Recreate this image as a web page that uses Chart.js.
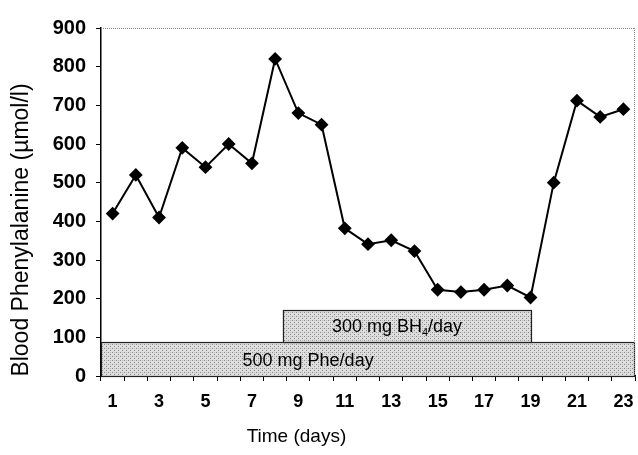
<!DOCTYPE html>
<html>
<head>
<meta charset="utf-8">
<script src="https://cdn.jsdelivr.net/npm/chart.js@4/dist/chart.umd.min.js"></script>
<style>
  html, body { margin: 0; padding: 0; background: #fff; }
  #wrap { width: 638px; height: 455px; position: relative; }
</style>
</head>
<body>
<div id="wrap"><canvas id="c" width="638" height="455"></canvas></div>
<script>
// ---- data ----
const days = ['1','2','3','4','5','6','7','8','9','10','11','12','13','14','15','16','17','18','19','20','21','22','23'];
const phe = [420, 520, 410, 590, 540, 600, 550, 820, 680, 650, 382, 341, 351, 323, 223, 217, 223, 234, 203, 500, 712, 670, 690];
const yTicks = [0, 100, 200, 300, 400, 500, 600, 700, 800, 900];
const bandNames = ['500 mg Phe/day', '300 mg BH4/day'];
const bandStart = [0.5, 8.33];
const bandEnd = [23.5, 19.05];
const bandLow = [0, 87];
const bandHigh = [87, 170];

const FONT = '"Liberation Sans", Arial, sans-serif';

function makePattern(ctx) {
  const p = document.createElement('canvas');
  p.width = 4; p.height = 4;
  const g = p.getContext('2d');
  g.fillStyle = '#dedede';
  g.fillRect(0, 0, 4, 4);
  g.fillStyle = '#8a8a8a';
  g.fillRect(0, 0, 1, 1);
  g.fillRect(2, 2, 1, 1);
  g.fillStyle = '#bcbcbc';
  g.fillRect(2, 0, 1, 1);
  return ctx.createPattern(p, 'repeat');
}

const bandPlugin = {
  id: 'bands',
  beforeDatasetsDraw(chart, args, opts) {
    const ctx = chart.ctx;
    const xs = chart.scales.xb, ys = chart.scales.y;
    const pat = makePattern(ctx);
    ctx.save();
    for (let i = 0; i < bandNames.length; i++) {
      const x0 = xs.getPixelForValue(bandStart[i]);
      const x1 = xs.getPixelForValue(bandEnd[i]);
      const y0 = ys.getPixelForValue(bandLow[i]);
      const y1 = ys.getPixelForValue(bandHigh[i]);
      ctx.fillStyle = pat;
      ctx.fillRect(x0, y1, x1 - x0, y0 - y1);
      ctx.strokeStyle = '#222';
      ctx.lineWidth = 1.2;
      ctx.strokeRect(Math.round(x0) + 0.5, Math.round(y1) + 0.5, Math.round(x1 - x0) - 1, Math.round(y0 - y1));
    }
    const lab = opts.labels;
    ctx.fillStyle = '#000';
    ctx.textBaseline = 'middle';
    for (let i = 0; i < lab.length; i++) {
      const cx = xs.getPixelForValue(lab[i].x);
      const cy = ys.getPixelForValue(lab[i].y);
      const txt = bandNames[i];
      const m = txt.match(/^(.*BH)(4)(.*)$/);
      ctx.font = '18px ' + FONT;
      if (m) {
        const a = m[1], b = m[2], c = m[3];
        const wa = ctx.measureText(a).width, wc = ctx.measureText(c).width;
        ctx.font = '11px ' + FONT;
        const wb = ctx.measureText(b).width;
        const total = wa + wb + wc;
        let x = cx - total / 2;
        ctx.textAlign = 'left';
        ctx.font = '18px ' + FONT;
        ctx.fillText(a, x, cy);
        ctx.font = '11px ' + FONT;
        ctx.fillText(b, x + wa, cy + 6);
        ctx.font = '18px ' + FONT;
        ctx.fillText(c, x + wa + wb, cy);
      } else {
        ctx.textAlign = 'center';
        ctx.fillText(txt, cx, cy);
      }
    }
    ctx.restore();
  },
  afterDraw(chart) {
    const ctx = chart.ctx;
    const a = chart.chartArea;
    ctx.save();
    ctx.strokeStyle = '#888';
    ctx.lineWidth = 1;
    ctx.setLineDash([1, 1]);
    ctx.beginPath();
    ctx.moveTo(a.left, a.top + 0.5);
    ctx.lineTo(a.right, a.top + 0.5);
    ctx.moveTo(a.right - 0.5, a.top);
    ctx.lineTo(a.right - 0.5, a.bottom);
    ctx.stroke();
    ctx.setLineDash([]);
    ctx.fillStyle = '#000';
    ctx.textAlign = 'center';
    ctx.textBaseline = 'middle';
    ctx.font = '19px ' + FONT;
    ctx.fillText('Time (days)', a.left + (a.right - a.left) * 0.366, 437);
    ctx.translate(22, 230);
    ctx.rotate(-Math.PI / 2);
    ctx.font = '23px ' + FONT;
    ctx.fillText('Blood Phenylalanine (\u00b5mol/l)', 0, 0);
    ctx.restore();
  }
};

new Chart(document.getElementById('c'), {
  type: 'line',
  data: {
    labels: days,
    datasets: [{
      data: phe,
      borderColor: '#000',
      backgroundColor: '#000',
      borderWidth: 2,
      pointStyle: 'rectRot',
      pointRadius: 5.5,
      pointHoverRadius: 5.5,
      tension: 0,
      xAxisID: 'x',
      yAxisID: 'y'
    }]
  },
  options: {
    responsive: false,
    animation: false,
    devicePixelRatio: 1,
    layout: { autoPadding: false, padding: { top: 28, right: 3, left: 0, bottom: 0 } },
    plugins: {
      legend: { display: false },
      tooltip: { enabled: false },
      bands: {
        labels: [ { x: 9.42, y: 39 }, { x: 13.25, y: 127 } ]
      }
    },
    scales: {
      x: {
        type: 'category',
        offset: true,
        grid: { offset: true, drawOnChartArea: false, tickLength: 5, color: '#000', lineWidth: 1 },
        border: { color: '#000', width: 1.5 },
        ticks: {
          autoSkip: false,
          maxRotation: 0,
          padding: 10,
          color: '#000',
          font: { family: FONT, size: 18, weight: 'bold' },
          callback: function(v, i) { return (i % 2 === 0) ? days[i] : ''; }
        },
        afterFit: s => { s.height = 79; s.paddingLeft = 0; s.paddingRight = 0; }
      },
      xb: {
        type: 'linear',
        display: false,
        min: 0.5,
        max: 23.5
      },
      y: {
        min: 0,
        max: 900,
        grid: { drawOnChartArea: false, tickLength: 5, color: '#000', lineWidth: 1 },
        border: { color: '#000', width: 1.5 },
        afterBuildTicks: s => { s.ticks = yTicks.map(v => ({ value: v })); },
        ticks: {
          padding: 10,
          color: '#000',
          font: { family: FONT, size: 20, weight: 'bold' }
        },
        afterFit: s => { s.width = 101; }
      }
    }
  },
  plugins: [bandPlugin]
});
</script>
</body>
</html>
